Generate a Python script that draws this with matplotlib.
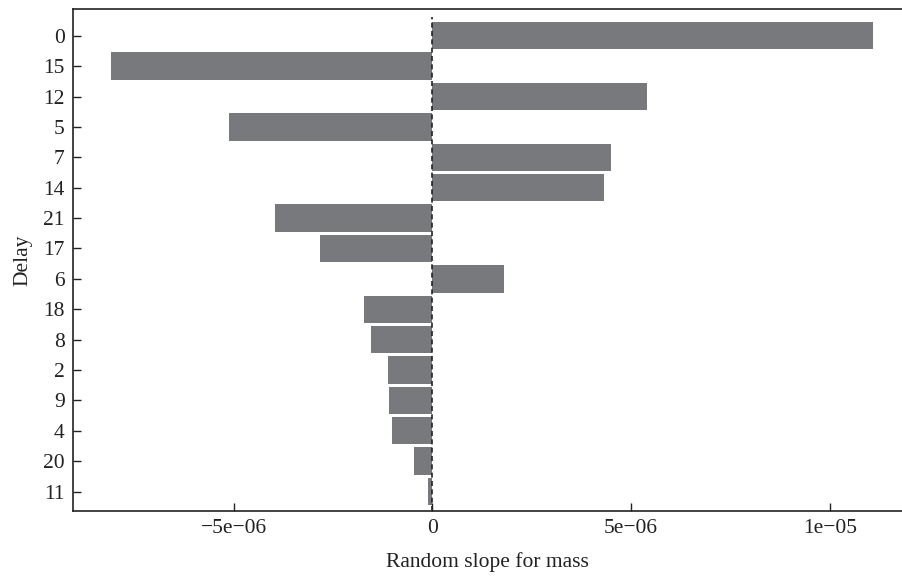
import matplotlib
matplotlib.use("Agg")
import matplotlib.pyplot as plt
import numpy as np

# delay groups, top to bottom, and their random slopes for mass
delays = ["0", "15", "12", "5", "7", "14", "21", "17", "6", "18", "8", "2", "9", "4", "20", "11"]
slopes = [11.09e-6, -8.08e-6, 5.41e-6, -5.11e-6, 4.50e-6, 4.32e-6, -3.97e-6, -2.82e-6,
          1.81e-6, -1.72e-6, -1.54e-6, -1.11e-6, -1.08e-6, -1.01e-6, -0.46e-6, -0.11e-6]

xticks = [-5e-6, 0, 5e-6, 1e-5]
xticklabels = ["\u22125e\u221206", "0", "5e\u221206", "1e\u221205"]

plt.rcParams['font.family'] = ['Liberation Serif', 'DejaVu Serif']

fig = plt.figure(figsize=(9.02, 5.77), dpi=100)
ax = fig.add_axes([0.081, 0.1144, 0.919, 0.870])

y = np.arange(len(delays))[::-1]
ax.barh(y, slopes, height=0.9, color='#78797d', edgecolor='none')
ax.axvline(0, color='#222222', linestyle=(0, (3, 2)), linewidth=1.2, ymax=0.985)

ax.set_yticks(y)
ax.set_yticklabels(delays)
ax.set_ylim(-0.64, len(delays) - 1 + 0.88)

ax.set_xticks(xticks)
ax.set_xticklabels(xticklabels)
ax.set_xlim(-9.04e-6, 11.82e-6)

ax.tick_params(direction='in', length=6, width=1, labelsize=15.5, colors='#222222', pad=6)
ax.spines['right'].set_visible(False)
for s in ['left', 'top', 'bottom']:
    ax.spines[s].set_linewidth(1.2)
    ax.spines[s].set_color('#222222')

ax.set_xlabel("Random slope for mass", fontsize=15.5, color='#222222', labelpad=10)
ax.set_ylabel("Delay", fontsize=15.5, color='#222222', labelpad=8)

fig.savefig("out.png", dpi=100)
